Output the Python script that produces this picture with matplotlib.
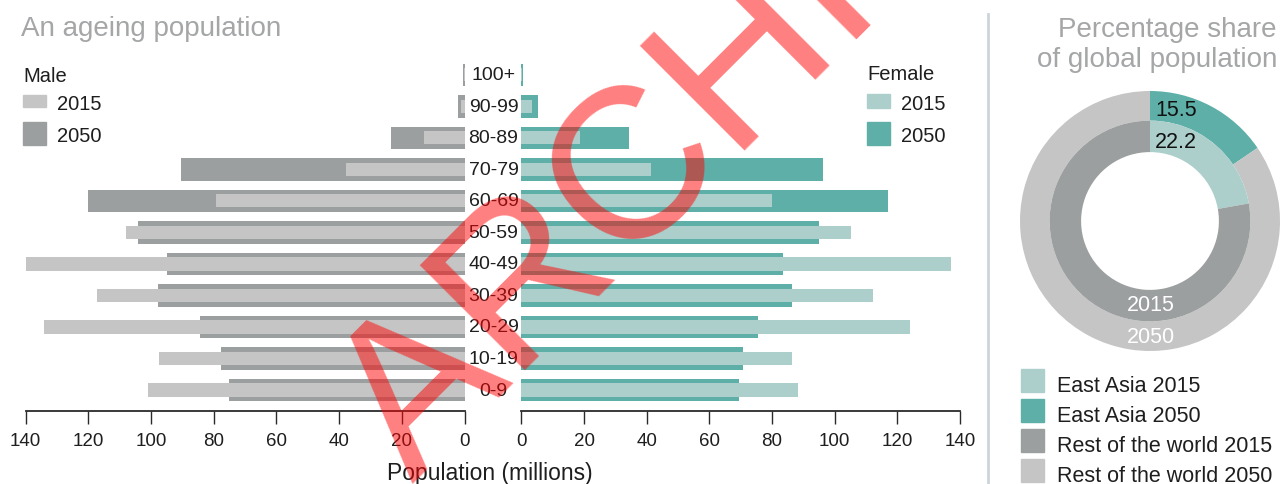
import matplotlib
matplotlib.use("Agg")
import matplotlib.pyplot as plt
from matplotlib.patches import Rectangle
from matplotlib import transforms
import numpy as np

plt.rcParams['font.family'] = ['Liberation Sans', 'DejaVu Sans']

# ---------------- data ----------------
age_groups = ["0-9", "10-19", "20-29", "30-39", "40-49", "50-59",
              "60-69", "70-79", "80-89", "90-99", "100+"]
male_2015 = [100.9, 97.4, 134.1, 117.2, 141.4, 108.0, 79.3, 37.8, 13.0, 1.1, 0.2]
male_2050 = [75.1, 77.7, 84.3, 97.7, 94.9, 104.1, 120.1, 90.4, 23.5, 2.1, 0.4]
female_2015 = [88.2, 86.3, 124.0, 112.2, 137.1, 105.2, 80.0, 41.4, 18.7, 3.4, 0.2]
female_2050 = [69.5, 70.7, 75.5, 86.3, 83.5, 95.0, 117.0, 96.3, 34.3, 5.2, 0.5]
x_ticks = [0, 20, 40, 60, 80, 100, 120, 140]

share_labels = ["East Asia 2015", "East Asia 2050",
                "Rest of the world 2015", "Rest of the world 2050"]
east_asia_2015 = 22.2
east_asia_2050 = 15.5

# ---------------- style ----------------
C_LGREY = "#c4c5c4"
C_DGREY = "#9c9fa0"
C_LTEAL = "#accfcb"
C_TEAL = "#5fafa9"
C_TITLE = "#a4a6a7"
C_TEXT = "#1e1e1e"

W, H = 1280, 485
fig = plt.figure(figsize=(W / 100, H / 100), dpi=100)

def fx(x):
    return x / W

def fy(y):
    return 1 - y / H

ax_bottom_px, ax_top_px = 411.5, 60.0
ylim = (-0.65, 10.5)

ax_m = fig.add_axes([fx(25.5), fy(ax_bottom_px), 439.1 / W, (ax_bottom_px - ax_top_px) / H])
ax_f = fig.add_axes([fx(521.4), fy(ax_bottom_px), 438.6 / W, (ax_bottom_px - ax_top_px) / H])

y = np.arange(len(age_groups))
ax_m.barh(y, male_2050, height=0.714, color=C_DGREY, linewidth=0)
ax_m.barh(y, male_2015, height=0.42, color=C_LGREY, linewidth=0)
ax_f.barh(y, female_2050, height=0.714, color=C_TEAL, linewidth=0)
ax_f.barh(y, female_2015, height=0.42, color=C_LTEAL, linewidth=0)

ax_m.set_xlim(140, 0)
ax_f.set_xlim(0, 140)
for ax in (ax_m, ax_f):
    ax.set_ylim(*ylim)
    ax.set_xticks(x_ticks)
    ax.set_xticklabels([str(t) for t in x_ticks])
    ax.set_yticks([])
    for s in ("left", "right", "top"):
        ax.spines[s].set_visible(False)
    ax.spines["bottom"].set_color("#2a2a2a")
    ax.spines["bottom"].set_linewidth(1.3)
    ax.tick_params(axis="x", direction="out", length=9.5, width=1.0,
                   color="#2a2a2a", labelsize=13.5, labelcolor=C_TEXT, pad=6)
    ax.patch.set_visible(False)

# age labels between the two halves
trans = transforms.blended_transform_factory(fig.transFigure, ax_m.transData)
for i, lab in enumerate(age_groups):
    ax_m.text(fx(493.5), i, lab, transform=trans, ha="center", va="center",
              fontsize=14, color=C_TEXT, clip_on=False)

fig.text(fx(490), fy(474), "Population (millions)", ha="center", va="center",
         fontsize=16.5, color=C_TEXT)

# title
fig.text(fx(21), fy(29), "An ageing population", ha="left", va="center",
         fontsize=20, color=C_TITLE)

# male legend
fig.text(fx(23), fy(76), "Male", ha="left", va="center", fontsize=14.5, color=C_TEXT)
fig.patches.append(Rectangle((fx(23), fy(108)), 23 / W, 12 / H, color=C_LGREY,
                             transform=fig.transFigure, figure=fig))
fig.patches.append(Rectangle((fx(23), fy(146)), 23 / W, 23 / H, color=C_DGREY,
                             transform=fig.transFigure, figure=fig))
fig.text(fx(57), fy(104), "2015", ha="left", va="center", fontsize=14.5, color=C_TEXT)
fig.text(fx(57), fy(136), "2050", ha="left", va="center", fontsize=14.5, color=C_TEXT)

# female legend
fig.text(fx(867), fy(75), "Female", ha="left", va="center", fontsize=14.5, color=C_TEXT)
fig.patches.append(Rectangle((fx(867), fy(109)), 23 / W, 14 / H, color=C_LTEAL,
                             transform=fig.transFigure, figure=fig))
fig.patches.append(Rectangle((fx(867), fy(146)), 23 / W, 23 / H, color=C_TEAL,
                             transform=fig.transFigure, figure=fig))
fig.text(fx(901), fy(104), "2015", ha="left", va="center", fontsize=14.5, color=C_TEXT)
fig.text(fx(901), fy(136), "2050", ha="left", va="center", fontsize=14.5, color=C_TEXT)

# separator
fig.add_artist(plt.Line2D([fx(987.5), fx(987.5)], [fy(15), fy(485)],
                          transform=fig.transFigure, color="#cdd5da", linewidth=2))

# right title
fig.text(fx(1277), fy(30), "Percentage share", ha="right", va="center",
         fontsize=20, color=C_TITLE)
fig.text(fx(1277), fy(60), "of global population", ha="right", va="center",
         fontsize=20, color=C_TITLE)

# donut
ax_d = fig.add_axes([fx(1020), fy(352), 260 / W, 260 / H])
ax_d.pie([east_asia_2050, 100 - east_asia_2050], colors=[C_TEAL, C_LGREY],
         radius=1.0, startangle=90, counterclock=False,
         wedgeprops=dict(width=0.228, linewidth=0))
ax_d.pie([east_asia_2015, 100 - east_asia_2015], colors=[C_LTEAL, C_DGREY],
         radius=0.772, startangle=90, counterclock=False,
         wedgeprops=dict(width=0.242, linewidth=0))
ax_d.set_xlim(-1, 1)
ax_d.set_ylim(-1, 1)
ax_d.set_aspect("auto")
ax_d.axis("off")
ax_d.text(0.2, 0.86, f"{east_asia_2050}", ha="center", va="center", fontsize=15.5, color="#111111")
ax_d.text(0.2, 0.61, f"{east_asia_2015}", ha="center", va="center", fontsize=15.5, color="#111111")
ax_d.text(0.01, -0.645, "2015", ha="center", va="center", fontsize=15.5, color="white")
ax_d.text(0.01, -0.885, "2050", ha="center", va="center", fontsize=15.5, color="white")

# donut legend
legend_colors = [C_LTEAL, C_TEAL, C_DGREY, C_LGREY]
for i, (lab, col) in enumerate(zip(share_labels, legend_colors)):
    yc = 381.5 + i * 30
    fig.patches.append(Rectangle((fx(1021), fy(yc + 11.5)), 23 / W, 23 / H, color=col,
                                 transform=fig.transFigure, figure=fig))
    fig.text(fx(1057), fy(yc + 5), lab, ha="left", va="center", fontsize=15.5, color=C_TEXT)

# watermark
fig.text(fx(412), fy(484), "ARCHIVE", rotation=45, rotation_mode="anchor",
         ha="left", va="baseline", fontsize=155, color=(1, 0, 0), alpha=0.5)

fig.savefig("out.png", dpi=100)
